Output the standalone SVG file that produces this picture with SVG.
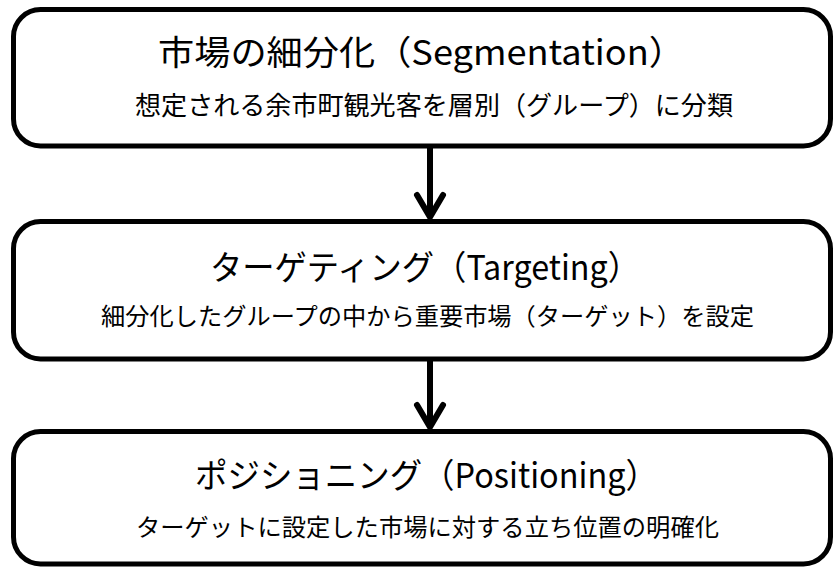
<svg xmlns="http://www.w3.org/2000/svg" width="833" height="567" viewBox="0 0 833 567">
<style>
.box{fill:#fff;stroke:#000;stroke-width:5}
.t{font-family:"Noto Sans CJK JP","Noto Sans",sans-serif;fill:#000}
.title{font-size:34px}
.sub{font-size:24px}
.arr{fill:none;stroke:#000;stroke-width:6;stroke-linecap:round;stroke-linejoin:miter}
</style>
<rect width="833" height="567" fill="#fff"/>
<g id="segmentation">
<rect class="box" x="13.5" y="9.5" width="817" height="136.5" rx="27"/>
<text class="t title" x="158" y="65" textLength="527" lengthAdjust="spacingAndGlyphs">市場の細分化（Segmentation）</text>
<text class="t sub" x="135" y="115" textLength="598" lengthAdjust="spacingAndGlyphs" style="font-size:26px">想定される余市町観光客を層別（グループ）に分類</text>
</g>
<g id="targeting">
<rect class="box" x="13.5" y="221.5" width="817" height="137.5" rx="27"/>
<text class="t title" x="210" y="280" textLength="430" lengthAdjust="spacingAndGlyphs">ターゲティング（Targeting）</text>
<text class="t sub" x="101" y="325" textLength="653" lengthAdjust="spacingAndGlyphs">細分化したグループの中から重要市場（ターゲット）を設定</text>
</g>
<g id="positioning">
<rect class="box" x="13.5" y="431.5" width="817" height="132.5" rx="27"/>
<text class="t title" x="195" y="488" textLength="463" lengthAdjust="spacingAndGlyphs">ポジショニング（Positioning）</text>
<text class="t sub" x="136" y="536" textLength="583" lengthAdjust="spacingAndGlyphs">ターゲットに設定した市場に対する立ち位置の明確化</text>
</g>
<g id="connectors">
<line class="arr" x1="430" y1="148" x2="430" y2="215"/>
<polyline class="arr" points="417,195 430,217 443,195"/>
<line class="arr" x1="430" y1="361" x2="430" y2="425"/>
<polyline class="arr" points="417,405 430,427 443,405"/>
</g>
</svg>
